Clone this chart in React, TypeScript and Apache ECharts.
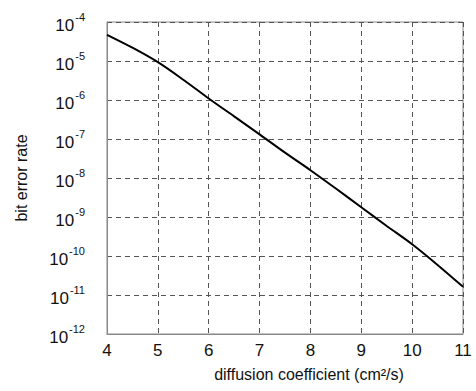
import React, { useEffect, useRef } from "react";
import * as echarts from "echarts";

// diffusion coefficient (cm^2/s)
const diffusion = [4, 4.5, 5, 5.5, 6, 6.5, 7, 7.5, 8, 8.5, 9, 9.5, 10, 10.5, 11];
// log10 of bit error rate
const log10Ber = [-4.33, -4.66, -5.03, -5.48, -5.96, -6.42, -6.88, -7.35, -7.8, -8.27, -8.75, -9.23, -9.7, -10.23, -10.79];
const xTicks = [4, 5, 6, 7, 8, 9, 10, 11];
const yExponents = [-12, -11, -10, -9, -8, -7, -6, -5, -4];

const FONT = "'Liberation Sans', Arial, Helvetica, sans-serif";

export default function App() {
  const ref = useRef<HTMLDivElement>(null);
  useEffect(() => {
    if (!ref.current) return;
    const chart = echarts.init(ref.current, null, { renderer: "svg" });
    const data = diffusion.map((d, i) => [d, Math.pow(10, log10Ber[i])]);
    chart.setOption({
      animation: false,
      backgroundColor: "#fff",
      textStyle: { fontFamily: FONT },
      grid: {
        left: 107,
        right: 13,
        top: 22,
        bottom: 57,
        show: true,
        borderColor: "#888",
        borderWidth: 1,
      },
      xAxis: {
        type: "value",
        min: xTicks[0],
        max: xTicks[xTicks.length - 1],
        interval: 1,
        name: "diffusion coefficient (cm²/s)",
        nameLocation: "middle",
        nameGap: 32,
        nameTextStyle: { fontSize: 16, color: "#111", fontFamily: FONT, padding: [0, 0, 0, 48] },
        axisLine: { show: true, lineStyle: { color: "#888", width: 1 } },
        axisTick: { show: false },
        axisLabel: { fontSize: 17, color: "#111", margin: 8, fontFamily: FONT },
        splitLine: { show: true, lineStyle: { color: "#555", type: [5, 4], width: 1 } },
      },
      yAxis: {
        type: "log",
        logBase: 10,
        min: Math.pow(10, yExponents[0]),
        max: Math.pow(10, yExponents[yExponents.length - 1]),
        name: "bit error rate",
        nameLocation: "middle",
        nameGap: 78,
        nameTextStyle: { fontSize: 16, color: "#111", fontFamily: FONT },
        axisLine: { show: true, lineStyle: { color: "#888", width: 1 } },
        axisTick: { show: false },
        axisLabel: {
          margin: 22,
          formatter: (v: number) => {
            const e = Math.round(Math.log10(v));
            return "{b|10}{s|" + e + "}";
          },
          rich: {
            b: { fontSize: 17, color: "#111", fontFamily: FONT, padding: [7, 0, 0, 0] },
            s: { fontSize: 11, color: "#111", fontFamily: FONT, padding: [0, 0, 10, 1] },
          },
        },
        splitLine: { show: true, lineStyle: { color: "#555", type: [5, 4], width: 1 } },
      },
      series: [
        {
          type: "line",
          data,
          showSymbol: false,
          smooth: 0.3,
          lineStyle: { color: "#000", width: 2 },
        },
      ],
    });
    return () => chart.dispose();
  }, []);
  return <div ref={ref} style={{ position: "fixed", left: 0, top: 0, width: 476, height: 391 }} />;
}
